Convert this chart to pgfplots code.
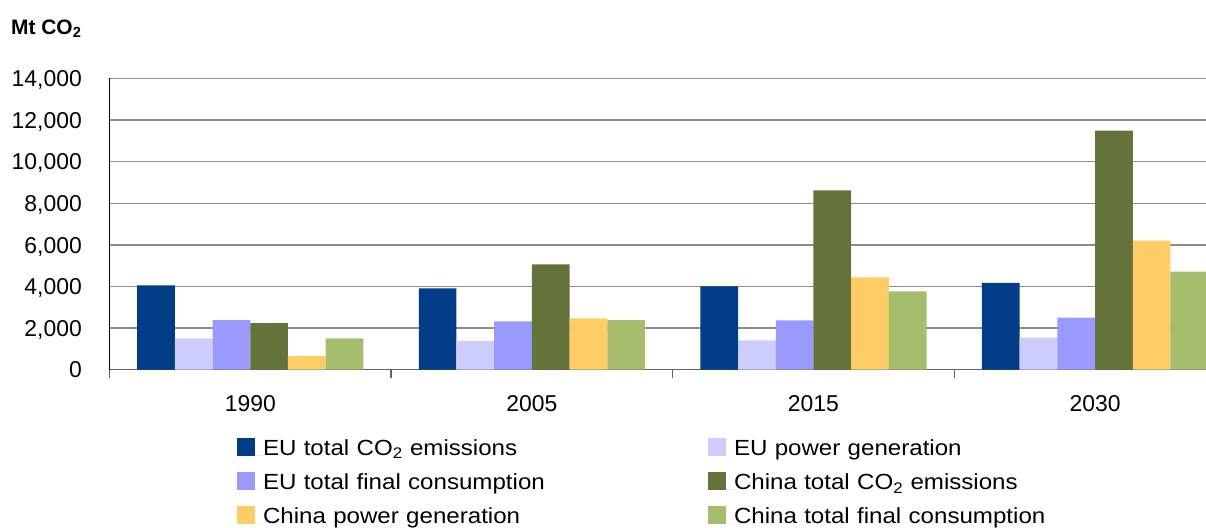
\documentclass[border=0pt]{standalone}
\usepackage{pgfplots}
\pgfplotsset{compat=1.18}
\usepackage{pgfplotstable}
\usepackage{fontspec}
\setmainfont{Liberation Sans}
\newfontfamily\legfont[FakeStretch=1.1]{Liberation Sans}
\definecolor{euT}{RGB}{0,61,134}
\definecolor{euP}{RGB}{204,204,255}
\definecolor{euF}{RGB}{153,153,255}
\definecolor{cnT}{RGB}{100,115,58}
\definecolor{cnP}{RGB}{255,204,102}
\definecolor{cnF}{RGB}{166,189,110}
\definecolor{gridgray}{RGB}{140,140,140}
\definecolor{xgray}{RGB}{100,100,100}
\pgfplotsset{sqleg/.style={legend image code/.code={\fill[##1] (0bp,-0.5bp) rectangle (18bp,17.5bp); \path (0bp,0bp) -- (26bp,0bp);}}}
\pgfplotstableread{
x euT euP euF cnT cnP cnF
0 4060 1510 2380 2240 650 1510
1 3910 1380 2320 5060 2470 2380
2 4000 1410 2370 8620 4440 3760
3 4180 1540 2500 11490 6200 4710
}\datatab
\begin{document}
\begin{tikzpicture}
\begin{axis}[
  at={(109.5bp,158.3bp)}, anchor=south west,
  scale only axis, width=1096.5bp, height=291.2bp,
  xmin=-0.5, xmax=3.394, ymin=0, ymax=14000,
  enlargelimits=false,
  ybar=0pt, bar width=37.7bp,
  axis lines*=left,
  x axis line style={draw=xgray, line width=1.3bp},
  y axis line style={draw=black, line width=1bp},
  xtick={0,1,2,3}, xticklabels={1990,2005,2015,2030},
  minor xtick={-0.5,0.5,1.5,2.5},
  ytick={0,2000,4000,6000,8000,10000,12000,14000},
  ymajorgrids,
  major grid style={draw=gridgray, line width=1.3bp},
  major tick length=0pt, minor tick length=8bp,
  tick align=outside,
  minor tick style={draw=xgray, line width=1.3bp},
  /pgf/number format/assume math mode=true,
  /pgf/number format/1000 sep={,},
  scaled y ticks=false,
  tick label style={font=\fontsize{23}{27}\selectfont},
  yticklabel style={anchor=base east, inner sep=0pt, xshift=-27.5bp, yshift=-8.2bp},
  xticklabel style={anchor=north, inner sep=0pt, yshift=-25.7bp},
  legend columns=2,
  legend style={draw=none, fill=none, inner sep=0pt, outer sep=0pt,
    at={(axis description cs:0,0)}, anchor=north west,
    xshift=127.5bp, yshift=-68bp,
    row sep=11.8bp, column sep=0pt,
    font=\legfont\fontsize{22}{26}\selectfont,
    nodes={inner sep=0pt, text width=445bp, align=left, text height=17bp, text depth=5bp, anchor=base west}},
]
\addplot[fill=euT, draw=none, sqleg] table[x=x, y=euT] {\datatab};
\addlegendentry{EU total CO\textsubscript{2} emissions}
\addplot[fill=euP, draw=none, sqleg] table[x=x, y=euP] {\datatab};
\addlegendentry{EU power generation}
\addplot[fill=euF, draw=none, sqleg] table[x=x, y=euF] {\datatab};
\addlegendentry{EU total final consumption}
\addplot[fill=cnT, draw=none, sqleg] table[x=x, y=cnT] {\datatab};
\addlegendentry{China total CO\textsubscript{2} emissions}
\addplot[fill=cnP, draw=none, sqleg] table[x=x, y=cnP] {\datatab};
\addlegendentry{China power generation}
\addplot[fill=cnF, draw=none, sqleg] table[x=x, y=cnF] {\datatab};
\addlegendentry{China total final consumption}
\end{axis}
\node[anchor=base west, inner sep=0pt, font=\fontsize{21}{25}\selectfont\bfseries] at (11bp,493.7bp) {Mt CO\textsubscript{2}};
\pgfresetboundingbox
\useasboundingbox (0,0) rectangle (1206bp,528bp);
\end{tikzpicture}
\end{document}
